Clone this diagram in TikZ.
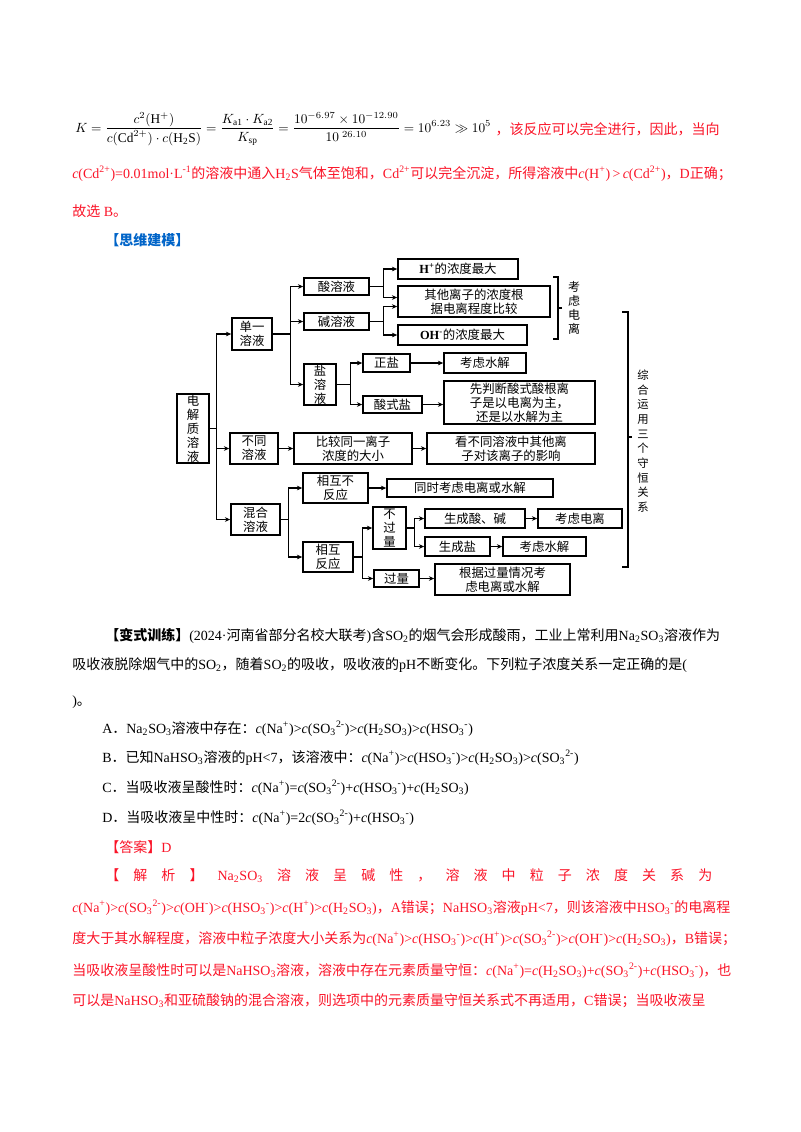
\documentclass[tikz,border=0pt]{standalone}
\usepackage{fontspec}
\setmainfont{Liberation Serif}
\newfontfamily\cjk{Noto Sans CJK SC}
\usetikzlibrary{arrows.meta,calc}
\XeTeXinterchartokenstate=1
\newXeTeXintercharclass\CJKcls
\count255="3000
\loop \XeTeXcharclass\count255=\CJKcls \ifnum\count255<"9FFF \advance\count255 by 1 \repeat
\count255="FF00
\loop \XeTeXcharclass\count255=\CJKcls \ifnum\count255<"FFEF \advance\count255 by 1 \repeat
\XeTeXinterchartoks 0 \CJKcls = {\cjk}
\XeTeXinterchartoks 4095 \CJKcls = {\cjk}
\XeTeXinterchartoks \CJKcls 0 = {\rmfamily}
\XeTeXinterchartoks \CJKcls 4095 = {\rmfamily}
\XeTeXlinebreaklocale "zh"
\XeTeXlinebreakskip=0pt plus 2pt minus 0.4pt
\definecolor{rd}{RGB}{250,20,40}
\definecolor{bl}{RGB}{0,100,200}
\newcommand\tsb[1]{\textsubscript{#1}}
\newcommand\tsp[1]{\textsuperscript{#1}}
\newcommand\ci{\textit{c}}
\begin{document}
\begin{tikzpicture}[x=0.75pt,y=-0.75pt,
  txt/.style={anchor=base west,inner sep=0pt,font=\fontsize{10.5pt}{13pt}\selectfont},
  bx/.style={draw,line width=1.2pt,inner sep=0pt,align=center,font=\fontsize{9.3pt}{10.5pt}\selectfont},
  arr/.style={line width=0.8pt,-{Stealth[length=4pt,width=3.5pt]}},
  ln/.style={line width=0.8pt}]
\useasboundingbox (0,0) rectangle (800,1132);
\newcommand\jl[5][black]{\node[txt,text=#1] at (#2,#3) {\makebox[\dimexpr #4pt*3/4\relax][s]{#5}};}
\newcommand\tl[4][black]{\node[txt,text=#1] at (#2,#3) {#4};}
\newcommand\bxn[6]{\node[bx,minimum width={(#4-#2)*0.75pt},minimum height={(#5-#3)*0.75pt}] (#1) at ({(#2+#4)/2},{(#3+#5)/2}) {#6};}
% formula
\node[anchor=west,inner sep=0pt,font=\fontsize{10pt}{12pt}\selectfont] (f) at (75,129) {$\displaystyle K=\frac{c^{2}(\mathrm{H}^{+})}{c(\mathrm{Cd}^{2+})\cdot c(\mathrm{H_2S})}=\frac{K_{\mathrm{a1}}\cdot K_{\mathrm{a2}}}{K_{\mathrm{sp}}}=\frac{10^{-6.97}\times10^{-12.90}}{10^{\;26.10}}=10^{6.23}\gg10^{5}$};
\node[txt,text=rd,anchor=west] (f2) at (f.east) {\hspace{3pt}，该反应可以完全进行，因此，当向};
\jl[rd]{72}{178}{640}{\ci(Cd\tsp{2+})=0.01mol·L\tsp{-1}的溶液中通入H\tsb{2}S气体至饱和，Cd\tsp{2+}可以完全沉淀，所得溶液中\ci(H\tsp{+})\,>\,\ci(Cd\tsp{2+})，D正确；}
\tl[rd]{72}{216}{故选 B。}
\tl[bl]{105}{245}{\bfseries 【思维建模】}
% diagram
\bxn{root}{177}{394}{209}{463}{电\\解\\质\\溶\\液}
\bxn{dan}{232}{318}{272}{350}{单一\\溶液}
\bxn{suan}{304}{278}{369}{295}{酸溶液}
\bxn{jian}{304}{313}{369}{330}{碱溶液}
\bxn{yan}{304}{364}{336}{405}{盐\\溶\\液}
\bxn{hmax}{398}{259}{518}{279}{\textbf{H\tsp{+}}的浓度最大}
\bxn{qita}{398}{286}{550}{317}{其他离子的浓度根\\据电离程度比较}
\bxn{ohmax}{398}{325}{527}{345}{\textbf{OH\tsp{-}}的浓度最大}
\bxn{zheng}{363}{354}{410}{372}{正盐}
\bxn{kl1}{444}{353}{526}{373}{考虑水解}
\bxn{sss}{363}{396}{422}{413}{酸式盐}
\bxn{xpd}{444}{381}{595}{424}{先判断酸式酸根离\\子是以电离为主，\\还是以水解为主}
\bxn{bt}{230}{433}{278}{464}{不同\\溶液}
\bxn{bj}{294}{433}{412}{464}{比较同一离子\\浓度的大小}
\bxn{kbt}{427}{433}{595}{464}{看不同溶液中其他离\\子对该离子的影响}
\bxn{hh}{231}{504}{280}{535}{混合\\溶液}
\bxn{bfy}{303}{473}{368}{503}{相互不\\反应}
\bxn{tsk}{387}{479}{553}{497}{同时考虑电离或水解}
\bxn{xhfy}{303}{542}{353}{572}{相互\\反应}
\bxn{bgl}{373}{507}{406}{549}{不\\过\\量}
\bxn{scs}{425}{509}{525}{528}{生成酸、碱}
\bxn{kdl}{538}{509}{622}{528}{考虑电离}
\bxn{scy}{425}{537}{490}{556}{生成盐}
\bxn{ksj}{503}{537}{586}{556}{考虑水解}
\bxn{gl}{374}{570}{419}{587}{过量}
\bxn{gj}{435}{564}{570}{595}{根据过量情况考\\虑电离或水解}
\draw[arr] (root.east) -- ++(7,0) |- (dan.west);
\draw[arr] (root.east) -- ++(7,0) |- (bt.west);
\draw[arr] (root.east) -- ++(7,0) |- (hh.west);
\draw[arr] (dan.east) -- ++(18,0) |- (suan.west);
\draw[arr] (dan.east) -- ++(18,0) |- (jian.west);
\draw[arr] (dan.east) -- ++(18,0) |- (yan.west);
\draw[arr] (suan.east) -- ++(14,0) |- (hmax.west);
\draw[arr] (suan.east) -- ++(14,0) |- ($(qita.west)+(0,-4)$);
\draw[arr] (jian.east) -- ++(14,0) |- ($(qita.west)+(0,5)$);
\draw[arr] (jian.east) -- ++(14,0) |- (ohmax.west);
\draw[arr] (yan.east) -- ++(14,0) |- (zheng.west);
\draw[arr] (yan.east) -- ++(14,0) |- (sss.west);
\draw[arr] (zheng) -- (kl1);
\draw[arr] (sss) -- (sss -| xpd.west);
\draw[arr] (bt) -- (bj);
\draw[arr] (bj) -- (kbt);
\draw[arr] (hh.east) -- ++(8,0) |- (bfy.west);
\draw[arr] (hh.east) -- ++(8,0) |- (xhfy.west);
\draw[arr] (bfy) -- (bfy -| tsk.west);
\draw[arr] (xhfy.east) -- ++(9,0) |- (bgl.west);
\draw[arr] (xhfy.east) -- ++(9,0) |- (gl.west);
\draw[arr] (bgl.east) -- ++(8,0) |- (scs.west);
\draw[arr] (bgl.east) -- ++(8,0) |- (scy.west);
\draw[arr] (scs) -- (kdl);
\draw[arr] (scy) -- (ksj);
\draw[arr] (gl) -- (gl -| gj.west);
\coordinate (b1a) at (553,277); \coordinate (b1b) at (553,339); \coordinate (b1m) at (562,308);
\draw[ln] (b1a) -- ++(5,0) |- (b1b); \draw[ln] (b1m) -- ++(-4,0);
\node[inner sep=0pt,align=center,font=\fontsize{9pt}{10.5pt}\selectfont] (kldl) at (574,308) {考\\虑\\电\\离};
\coordinate (b2a) at (622,312); \coordinate (b2b) at (622,567); \coordinate (b2m) at (632,437);
\draw[ln] (b2a) -- ++(6,0) |- (b2b); \draw[ln] (b2m) -- ++(-4,0);
\node[inner sep=0pt,align=center,font=\fontsize{8.5pt}{11pt}\selectfont] (zh) at (643,441) {综\\合\\运\\用\\三\\个\\守\\恒\\关\\系};
% question
\jl{105}{640}{607}{\textbf{【变式训练】}(2024·河南省部分名校大联考)含SO\tsb{2}的烟气会形成酸雨，工业上常利用Na\tsb{2}SO\tsb{3}溶液作为}
\jl{72}{669}{640}{吸收液脱除烟气中的SO\tsb{2}，随着SO\tsb{2}的吸收，吸收液的pH不断变化。下列粒子浓度关系一定正确的是(}
\tl{72}{705}{)。}
\tl{102}{733}{A．Na\tsb{2}SO\tsb{3}溶液中存在：\ci(Na\tsp{+})>\ci(SO\tsb{3}\tsp{2-})>\ci(H\tsb{2}SO\tsb{3})>\ci(HSO\tsb{3}\tsp{-})}
\tl{102}{762}{B．已知NaHSO\tsb{3}溶液的pH<7，该溶液中：\ci(Na\tsp{+})>\ci(HSO\tsb{3}\tsp{-})>\ci(H\tsb{2}SO\tsb{3})>\ci(SO\tsb{3}\tsp{2-})}
\tl{102}{792}{C．当吸收液呈酸性时：\ci(Na\tsp{+})=\ci(SO\tsb{3}\tsp{2-})+\ci(HSO\tsb{3}\tsp{-})+\ci(H\tsb{2}SO\tsb{3})}
\tl{102}{822}{D．当吸收液呈中性时：\ci(Na\tsp{+})=2\ci(SO\tsb{3}\tsp{2-})+\ci(HSO\tsb{3}\tsp{-})}
\tl[rd]{105}{852}{【答案】D}
\jl[rd]{105}{880}{607}{【\hfill 解\hfill 析\hfill 】\hfill Na\tsb{2}SO\tsb{3}\hfill 溶\hfill 液\hfill 呈\hfill 碱\hfill 性\hfill ，\hfill 溶\hfill 液\hfill 中\hfill 粒\hfill 子\hfill 浓\hfill 度\hfill 关\hfill 系\hfill 为}
\jl[rd]{72}{912}{640}{\ci(Na\tsp{+})>\ci(SO\tsb{3}\tsp{2-})>\ci(OH\tsp{-})>\ci(HSO\tsb{3}\tsp{-})>\ci(H\tsp{+})>\ci(H\tsb{2}SO\tsb{3})，A错误；NaHSO\tsb{3}溶液pH<7，则该溶液中HSO\tsb{3}\tsp{-}的电离程}
\jl[rd]{72}{943}{640}{度大于其水解程度，溶液中粒子浓度大小关系为\ci(Na\tsp{+})>\ci(HSO\tsb{3}\tsp{-})>\ci(H\tsp{+})>\ci(SO\tsb{3}\tsp{2-})>\ci(OH\tsp{-})>\ci(H\tsb{2}SO\tsb{3})，B错误；}
\jl[rd]{72}{975}{640}{当吸收液呈酸性时可以是NaHSO\tsb{3}溶液，溶液中存在元素质量守恒：\ci(Na\tsp{+})=\ci(H\tsb{2}SO\tsb{3})+\ci(SO\tsb{3}\tsp{2-})+\ci(HSO\tsb{3}\tsp{-})，也}
\jl[rd]{72}{1005}{640}{可以是NaHSO\tsb{3}和亚硫酸钠的混合溶液，则选项中的元素质量守恒关系式不再适用，C错误；当吸收液呈}
\end{tikzpicture}
\end{document}
